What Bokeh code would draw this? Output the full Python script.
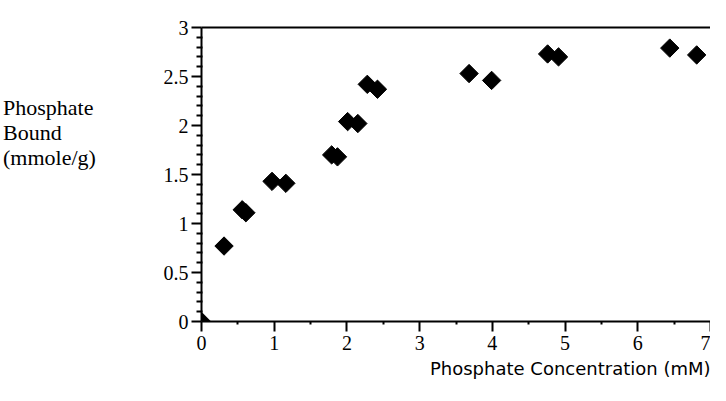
import math
from bokeh.plotting import figure
from bokeh.models import (Range1d, FixedTicker, LinearAxis, ColumnDataSource, Div,
                          Title)
from bokeh.layouts import row
from bokeh.embed import file_html
from bokeh.resources import INLINE

# data: phosphate concentration (mM) vs phosphate bound (mmole/g)
conc = [0.0, 0.31, 0.56, 0.61, 0.97, 1.16, 1.79, 1.87, 2.01, 2.15, 2.28, 2.42,
        3.68, 3.99, 4.76, 4.91, 6.44, 6.81]
bound = [0.0, 0.77, 1.14, 1.11, 1.43, 1.41, 1.70, 1.68, 2.04, 2.02, 2.42, 2.37,
         2.53, 2.46, 2.73, 2.70, 2.79, 2.72]

x_ticks = [0, 1, 2, 3, 4, 5, 6, 7]
x_minor = [0.5, 1.5, 2.5, 3.5, 4.5, 5.5, 6.5]
y_ticks = [0, 0.5, 1, 1.5, 2, 2.5, 3]
y_tick_labels = ["0", "0.5", "1", "1.5", "2", "2.5", "3"]
y_minor = [i / 10 for i in range(31) if i % 5 != 0]

x_title = "Phosphate Concentration (mM)"
y_title_lines = ["Phosphate", "Bound", "(mmole/g)"]

serif = "Liberation Serif"

div_w = 110
div = Div(text="<br>".join(y_title_lines), width=div_w, height=90,
          margin=(95, 0, 0, 3),
          styles={"font-family": serif, "font-size": "22px",
                  "line-height": "25px", "color": "black"})

fig_w = 710 - div_w - 3
p = figure(width=fig_w, height=385, output_backend="svg", toolbar_location=None,
           x_range=Range1d(0, 7), y_range=Range1d(0, 3),
           min_border_left=201 - div_w - 3, min_border_right=0, min_border_top=27,
           min_border_bottom=385 - 321)
p.outline_line_color = None
p.xgrid.visible = False
p.ygrid.visible = False
p.background_fill_color = "white"
p.border_fill_color = "white"

xa = p.xaxis[0]
xa.ticker = FixedTicker(ticks=x_ticks, minor_ticks=x_minor)
xa.axis_line_width = 2
xa.major_tick_line_width = 2
xa.minor_tick_line_width = 2
xa.major_tick_out = 10
xa.major_tick_in = 0
xa.minor_tick_out = 3
xa.minor_tick_in = 0
xa.major_label_text_font = serif
xa.major_label_text_font_size = "20px"
xa.major_label_text_color = "black"
xa.major_label_standoff = 4

ya = p.yaxis[0]
ya.ticker = FixedTicker(ticks=y_ticks, minor_ticks=y_minor)
ya.major_label_overrides = {t: l for t, l in zip(y_ticks, y_tick_labels)}
ya.axis_line_width = 2
ya.major_tick_line_width = 2
ya.minor_tick_line_width = 2
ya.major_tick_out = 10
ya.major_tick_in = 0
ya.minor_tick_out = 5
ya.minor_tick_in = 1
ya.major_label_text_font = serif
ya.major_label_text_font_size = "20px"
ya.major_label_text_color = "black"
ya.major_label_standoff = 3

top = LinearAxis(ticker=FixedTicker(ticks=[], minor_ticks=[]),
                 major_label_text_font_size="0px", axis_line_width=2,
                 major_tick_line_color=None, minor_tick_line_color=None)
p.add_layout(top, "above")

xt = Title(text=x_title, align="right", text_font="DejaVu Sans",
           text_font_size="18px", text_font_style="normal", text_color="black",
           standoff=6)
p.add_layout(xt, "below")

src = ColumnDataSource(dict(x=conc, y=bound))
p.scatter("x", "y", source=src, marker="square", angle=math.pi / 4, size=13,
          fill_color="black", line_color="black")

layout = row(div, p)
open("out.html", "w").write(file_html(layout, INLINE))
